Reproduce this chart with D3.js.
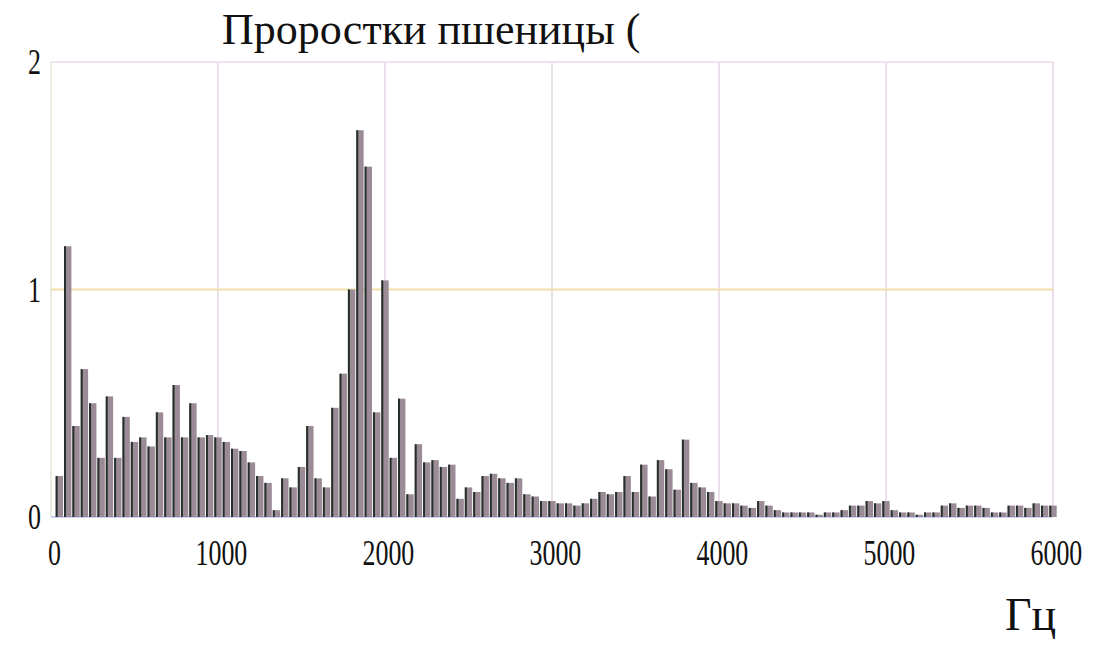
<!DOCTYPE html>
<html>
<head>
<meta charset="utf-8">
<script src="https://cdn.jsdelivr.net/npm/d3@7"></script>
<style>
  body { margin: 0; background: #fff; }
  svg { display: block; }
</style>
</head>
<body>
<svg width="1095" height="645"></svg>
<script>
// spectrum bins, Hz (50 Hz step)
var freqs = [
  50, 100, 150, 200, 250, 300, 350, 400, 450, 500, 550, 600,
  650, 700, 750, 800, 850, 900, 950, 1000, 1050, 1100, 1150, 1200,
  1250, 1300, 1350, 1400, 1450, 1500, 1550, 1600, 1650, 1700, 1750, 1800,
  1850, 1900, 1950, 2000, 2050, 2100, 2150, 2200, 2250, 2300, 2350, 2400,
  2450, 2500, 2550, 2600, 2650, 2700, 2750, 2800, 2850, 2900, 2950, 3000,
  3050, 3100, 3150, 3200, 3250, 3300, 3350, 3400, 3450, 3500, 3550, 3600,
  3650, 3700, 3750, 3800, 3850, 3900, 3950, 4000, 4050, 4100, 4150, 4200,
  4250, 4300, 4350, 4400, 4450, 4500, 4550, 4600, 4650, 4700, 4750, 4800,
  4850, 4900, 4950, 5000, 5050, 5100, 5150, 5200, 5250, 5300, 5350, 5400,
  5450, 5500, 5550, 5600, 5650, 5700, 5750, 5800, 5850, 5900, 5950, 6000
];
var amplitudes = [
  0.18, 1.19, 0.40, 0.65, 0.50, 0.26, 0.53, 0.26, 0.44, 0.33, 0.35, 0.31,
  0.46, 0.35, 0.58, 0.35, 0.50, 0.35, 0.36, 0.35, 0.33, 0.30, 0.29, 0.24,
  0.18, 0.15, 0.03, 0.17, 0.13, 0.22, 0.40, 0.17, 0.13, 0.48, 0.63, 1.00,
  1.70, 1.54, 0.46, 1.04, 0.26, 0.52, 0.10, 0.32, 0.24, 0.25, 0.22, 0.23,
  0.08, 0.13, 0.11, 0.18, 0.19, 0.17, 0.15, 0.17, 0.10, 0.09, 0.07, 0.07,
  0.06, 0.06, 0.05, 0.06, 0.08, 0.11, 0.10, 0.11, 0.18, 0.11, 0.23, 0.09,
  0.25, 0.21, 0.12, 0.34, 0.15, 0.13, 0.11, 0.07, 0.06, 0.06, 0.05, 0.04,
  0.07, 0.05, 0.03, 0.02, 0.02, 0.02, 0.02, 0.01, 0.02, 0.02, 0.03, 0.05,
  0.05, 0.07, 0.06, 0.07, 0.03, 0.02, 0.02, 0.01, 0.02, 0.02, 0.05, 0.06,
  0.04, 0.05, 0.05, 0.04, 0.02, 0.02, 0.05, 0.05, 0.04, 0.06, 0.05, 0.05
];
var xTicks = [0, 1000, 2000, 3000, 4000, 5000, 6000];
var yTicks = [0, 1, 2];
var title = "Проростки пшеницы (";
var unitLabel = "Гц";

var svg = d3.select("svg");
var x = d3.scaleLinear().domain([0, 6000]).range([51, 1053]);
var y = d3.scaleLinear().domain([0, 2]).range([517, 62]);

var data = freqs.map(function(f, i) { return {f: f, v: amplitudes[i]}; });

// grid
var grid = svg.append("g");
grid.selectAll(".vgrid").data(xTicks)
  .enter().append("line")
    .attr("class", "vgrid")
    .attr("x1", function(d) { return x(d); })
    .attr("x2", function(d) { return x(d); })
    .attr("y1", y(2))
    .attr("y2", y(0))
    .attr("stroke", function(d) { return d == 0 ? "#e6efe0" : "#ecdfec"; })
    .attr("stroke-width", 2);
grid.selectAll(".hgrid").data(yTicks)
  .enter().append("line")
    .attr("class", "hgrid")
    .attr("x1", x(0))
    .attr("x2", x(6000))
    .attr("y1", function(d) { return y(d); })
    .attr("y2", function(d) { return y(d); })
    .attr("stroke", function(d) { return d == 1 ? "#eee0a8" : (d == 0 ? "#c9d2ef" : "#eee3ee"); })
    .attr("stroke-width", 2);

// bars
var bw = 7.4;
var bars = svg.append("g");
bars.selectAll(".bar").data(data)
  .enter().append("rect")
    .attr("class", "bar")
    .attr("x", function(d) { return x(d.f) - bw / 2; })
    .attr("y", function(d) { return y(d.v); })
    .attr("width", bw)
    .attr("height", function(d) { return y(0) - y(d.v); })
    .attr("fill", "#9b8b96");
bars.selectAll(".edge").data(data)
  .enter().append("rect")
    .attr("class", "edge")
    .attr("x", function(d) { return x(d.f) - bw / 2; })
    .attr("y", function(d) { return y(d.v); })
    .attr("width", 2)
    .attr("height", function(d) { return y(0) - y(d.v); })
    .attr("fill", "#26302a");

// axes
var xAxis = svg.append("g")
    .attr("transform", "translate(0," + y(0) + ")")
    .call(d3.axisBottom(x).tickValues(xTicks).tickSize(0).tickPadding(22).tickFormat(d3.format("d")));
xAxis.select(".domain").remove();
xAxis.selectAll("text")
    .attr("dx", 4)
    .attr("transform", "scale(0.72,1)")
    .attr("fill", "#111")
    .style("font-family", "'Liberation Serif', serif")
    .style("font-size", "36px");

var yAxis = svg.append("g")
    .attr("transform", "translate(" + x(0) + ",0)")
    .call(d3.axisLeft(y).tickValues(yTicks).tickSize(0).tickPadding(14).tickFormat(d3.format("d")));
yAxis.select(".domain").remove();
yAxis.selectAll("text")
    .attr("transform", "scale(0.72,1)")
    .attr("fill", "#111")
    .style("font-family", "'Liberation Serif', serif")
    .style("font-size", "36px");

// title and unit
svg.append("text")
    .attr("x", 222)
    .attr("y", 44)
    .attr("fill", "#111")
    .style("font-family", "'Liberation Serif', serif")
    .style("font-size", "44px")
    .text(title);

svg.append("text")
    .attr("x", 1005)
    .attr("y", 630)
    .attr("fill", "#111")
    .style("font-family", "'Liberation Serif', serif")
    .style("font-size", "46px")
    .text(unitLabel);
</script>
</body>
</html>
